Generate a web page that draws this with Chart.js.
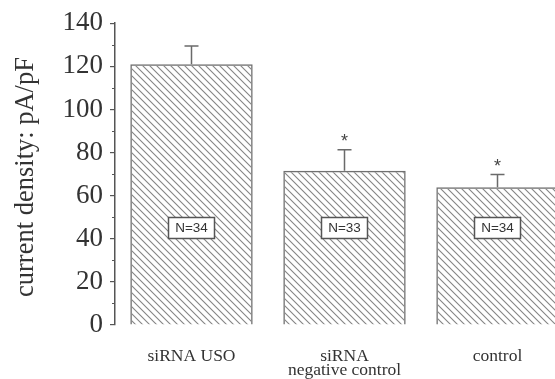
<!DOCTYPE html>
<html><head><meta charset="utf-8">
<script src="https://cdn.jsdelivr.net/npm/chart.js@4"></script>
<style>
html,body{margin:0;padding:0;overflow:hidden;background:#fff;width:555px;height:379px}
#wrap{position:absolute;left:0;top:0;width:574px;height:379px}
</style>
</head><body><div id="wrap"><canvas id="c" width="574" height="379"></canvas></div>
<script>
const categories = ['siRNA USO', ['siRNA', 'negative control'], 'control'];
const meanValues = [121, 71.6, 63.9];
const errorValues = [8.4, 9.7, 5.9];
const sampleSizes = ['N=34', 'N=33', 'N=34'];
const significant = [false, true, true];
const yTickValues = [0, 20, 40, 60, 80, 100, 120, 140];
const yMinorTicks = [10, 30, 50, 70, 90, 110, 130];
const yTitle = 'current density: pA/pF';

function hatch() {
  const s = 7;
  const c = document.createElement('canvas');
  c.width = s; c.height = s;
  const g = c.getContext('2d');
  g.strokeStyle = '#858585';
  g.lineWidth = 1.1;
  g.beginPath();
  g.moveTo(0, 0); g.lineTo(s, s);
  g.moveTo(s - 1, -1); g.lineTo(s + 1, 1);
  g.moveTo(-1, s - 1); g.lineTo(1, s + 1);
  g.stroke();
  return g.createPattern(c, 'repeat');
}

const overlay = {
  id: 'overlay',
  afterDatasetsDraw(chart) {
    const ctx = chart.ctx;
    const y = chart.scales.y;
    const meta = chart.getDatasetMeta(0);
    ctx.save();
    meta.data.forEach((bar, i) => {
      const x = bar.x;
      const top = y.getPixelForValue(meanValues[i] + errorValues[i]);
      ctx.strokeStyle = '#6a6a6a';
      ctx.lineWidth = 1.5;
      ctx.beginPath();
      ctx.moveTo(x, bar.y); ctx.lineTo(x, top);
      ctx.moveTo(x - 7, top); ctx.lineTo(x + 7, top);
      ctx.stroke();
      if (significant[i]) {
        ctx.fillStyle = '#444';
        ctx.font = '18px "Liberation Sans"';
        ctx.textAlign = 'center';
        ctx.textBaseline = 'alphabetic';
        ctx.fillText('*', x, top - 3);
      }
      const by = y.getPixelForValue(45);
      ctx.fillStyle = '#fff';
      ctx.fillRect(x - 23, by - 10.5, 46, 21);
      ctx.strokeStyle = '#555';
      ctx.lineWidth = 1.5;
      ctx.strokeRect(x - 23, by - 10.5, 46, 21);
      ctx.fillStyle = '#333';
      ctx.font = '13.5px "Liberation Sans"';
      ctx.textAlign = 'center';
      ctx.textBaseline = 'middle';
      ctx.fillText(sampleSizes[i], x, by + 0.5);
    });
    const ax = chart.chartArea.left;
    ctx.strokeStyle = '#555';
    ctx.lineWidth = 1.2;
    ctx.beginPath();
    yMinorTicks.forEach(v => {
      const py = Math.round(y.getPixelForValue(v)) + 0.5;
      ctx.moveTo(ax - 3, py); ctx.lineTo(ax, py);
    });
    ctx.stroke();
    ctx.save();
    ctx.translate(32.5, 177);
    ctx.rotate(-Math.PI / 2);
    ctx.fillStyle = '#333';
    ctx.font = '26.5px "Liberation Serif"';
    ctx.textAlign = 'center';
    ctx.textBaseline = 'alphabetic';
    ctx.fillText(yTitle, 0, 0);
    ctx.restore();
    ctx.restore();
  }
};

new Chart(document.getElementById('c'), {
  type: 'bar',
  data: {
    labels: categories,
    datasets: [{
      data: meanValues,
      backgroundColor: hatch(),
      borderColor: '#707070',
      borderWidth: 1.5,
      barPercentage: 0.8,
      categoryPercentage: 1.0
    }]
  },
  options: {
    responsive: false,
    animation: false,
    events: [],
    layout: { padding: { top: 22, left: 0, right: 0, bottom: 0 } },
    plugins: { legend: { display: false }, tooltip: { enabled: false } },
    scales: {
      x: {
        grid: { display: false, drawTicks: false },
        border: { display: false },
        ticks: { color: '#333', font: { family: 'Liberation Serif', size: 17.5, lineHeight: 0.8 }, padding: 24, maxRotation: 0, autoSkip: false },
        afterFit(s) { s.height = 54; }
      },
      y: {
        min: 0, max: 140,
        afterBuildTicks(s) { s.ticks = yTickValues.map(v => ({ value: v })); },
        grid: { display: true, drawOnChartArea: false, tickLength: 5, color: '#555', lineWidth: 1.2 },
        border: { display: true, color: '#555', width: 1.5 },
        ticks: { color: '#333', font: { family: 'Liberation Serif', size: 27 }, padding: 7 },
        afterFit(s) { s.width = 115; }
      }
    }
  },
  plugins: [overlay]
});
</script>
</body></html>
